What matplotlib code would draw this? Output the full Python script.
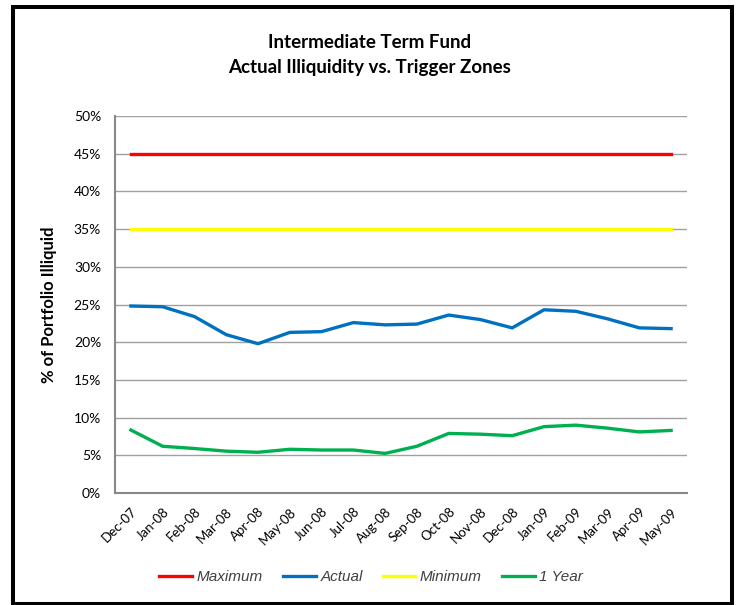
import matplotlib
matplotlib.use('Agg')
import matplotlib.pyplot as plt
from matplotlib.patches import Rectangle
from matplotlib.ticker import FuncFormatter, MultipleLocator

months = ['Dec-07', 'Jan-08', 'Feb-08', 'Mar-08', 'Apr-08', 'May-08', 'Jun-08',
          'Jul-08', 'Aug-08', 'Sep-08', 'Oct-08', 'Nov-08', 'Dec-08', 'Jan-09',
          'Feb-09', 'Mar-09', 'Apr-09', 'May-09']
maximum = [45.0] * 18
minimum = [35.0] * 18
actual = [24.8, 24.7, 23.4, 21.0, 19.8, 21.3, 21.4, 22.6, 22.3, 22.4,
          23.6, 23.0, 21.9, 24.3, 24.1, 23.1, 21.9, 21.8]
one_year = [8.35, 6.2, 5.9, 5.55, 5.4, 5.8, 5.7, 5.7, 5.25, 6.2,
            7.9, 7.8, 7.6, 8.8, 9.0, 8.6, 8.1, 8.3]

fig = plt.figure(figsize=(7.44, 6.05), dpi=100)
ax = fig.add_axes([115/744, 1-493/605, 572/744, 377/605])

x = range(len(months))
ax.plot(x, maximum, color='#FF0000', lw=2.4, label='Maximum')
ax.plot(x, actual, color='#0070C0', lw=2.4, label='Actual')
ax.plot(x, minimum, color='#FFFF00', lw=2.4, label='Minimum')
ax.plot(x, one_year, color='#00B050', lw=2.4, label='1 Year')

ax.set_xlim(-0.5, len(months) - 0.5)
ax.set_ylim(0, 50)
ax.yaxis.set_major_locator(MultipleLocator(5))
ax.yaxis.set_major_formatter(FuncFormatter(lambda v, p: '%d%%' % v))
ax.grid(axis='y', color='#A0A0A0', lw=1)
ax.set_axisbelow(True)
for s in ['top', 'right']:
    ax.spines[s].set_visible(False)
for s in ['left', 'bottom']:
    ax.spines[s].set_color('#888888')
    ax.spines[s].set_linewidth(1.5)

ax.set_xticks(list(x))
ax.set_xticklabels(months, rotation=45, ha='right', va='top',
                   rotation_mode='anchor', fontsize=9.5, family='Lato')
ax.tick_params(axis='x', length=0, pad=9)
ax.tick_params(axis='y', length=0, pad=10, labelsize=10)
for t in ax.get_yticklabels():
    t.set_family('Lato')

ax.set_ylabel('% of Portfolio Illiquid', fontsize=12, fontweight='bold',
              family='Lato', labelpad=12)

fig.text(0.497, 1-43/605, 'Intermediate Term Fund', ha='center', va='center',
         fontsize=13.5, fontweight='bold', family='Lato')
fig.text(0.497, 1-68/605, 'Actual Illiquidity vs. Trigger Zones', ha='center',
         va='center', fontsize=13.5, fontweight='bold', family='Lato')

leg = fig.legend(loc='center', bbox_to_anchor=(0.499, 1-577/605), ncol=4,
                 frameon=False, handlelength=2.15, handletextpad=0.3,
                 columnspacing=1.3,
                 prop={'family': 'Liberation Sans', 'style': 'italic', 'size': 11})
for t in leg.get_texts():
    t.set_color('#404040')

fig.patches.append(Rectangle((13/744, 1.5/605), (732-13)/744, (598-1.5)/605,
                             transform=fig.transFigure, fill=False,
                             edgecolor='black', lw=2.9))

plt.savefig('out.png', dpi=100)
plt.close()
